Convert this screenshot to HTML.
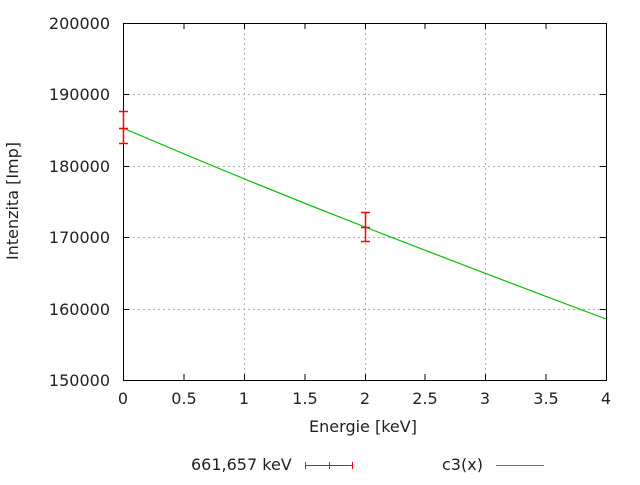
<!DOCTYPE html><html><head><style>body{margin:0;background:#fff}svg text{font-family:"DejaVu Sans","Liberation Sans",sans-serif;font-size:16px;fill:#222}</style></head><body>
<svg width="640" height="480" xmlns="http://www.w3.org/2000/svg">
<g stroke="#b0b0b0" stroke-dasharray="2,3" stroke-width="1">
<line x1="244.5" y1="23" x2="244.5" y2="380"/><line x1="365.5" y1="23" x2="365.5" y2="380"/><line x1="485.5" y1="23" x2="485.5" y2="380"/>
<line x1="123" y1="94.5" x2="606" y2="94.5"/><line x1="123" y1="166.5" x2="606" y2="166.5"/><line x1="123" y1="237.5" x2="606" y2="237.5"/><line x1="123" y1="309.5" x2="606" y2="309.5"/>
</g>
<rect x="123.5" y="23.5" width="483" height="357" fill="none" stroke="#000"/>
<g stroke="#000">
<line x1="123" y1="94.5" x2="129" y2="94.5"/><line x1="606" y1="94.5" x2="600" y2="94.5"/>
<line x1="123" y1="166.5" x2="129" y2="166.5"/><line x1="606" y1="166.5" x2="600" y2="166.5"/>
<line x1="123" y1="237.5" x2="129" y2="237.5"/><line x1="606" y1="237.5" x2="600" y2="237.5"/>
<line x1="123" y1="309.5" x2="129" y2="309.5"/><line x1="606" y1="309.5" x2="600" y2="309.5"/>
<line x1="184" y1="380" x2="184" y2="374"/><line x1="244.5" y1="380" x2="244.5" y2="374"/><line x1="305" y1="380" x2="305" y2="374"/><line x1="365.5" y1="380" x2="365.5" y2="374"/><line x1="425" y1="380" x2="425" y2="374"/><line x1="485.5" y1="380" x2="485.5" y2="374"/><line x1="546" y1="380" x2="546" y2="374"/>
<line x1="184" y1="23" x2="184" y2="29"/><line x1="244.5" y1="23" x2="244.5" y2="29"/><line x1="305" y1="23" x2="305" y2="29"/><line x1="365.5" y1="23" x2="365.5" y2="29"/><line x1="425" y1="23" x2="425" y2="29"/><line x1="485.5" y1="23" x2="485.5" y2="29"/><line x1="546" y1="23" x2="546" y2="29"/>
</g>
<g text-anchor="end"><text x="110" y="29">200000</text><text x="110" y="100">190000</text><text x="110" y="172">180000</text><text x="110" y="243">170000</text><text x="110" y="315">160000</text><text x="110" y="386">150000</text></g>
<g text-anchor="middle"><text x="123" y="404">0</text><text x="184" y="404">0.5</text><text x="244" y="404">1</text><text x="305" y="404">1.5</text><text x="365" y="404">2</text><text x="425" y="404">2.5</text><text x="485" y="404">3</text><text x="546" y="404">3.5</text><text x="606" y="404">4</text>
<text x="363" y="432">Energie [keV]</text>
<text transform="translate(18,201) rotate(-90)">Intenzita [Imp]</text></g>
<path d="M123,128 Q244,180 365,227 T606,319" fill="none" stroke="#00c000" stroke-width="1.2"/>
<g stroke="#f00" stroke-width="1.5">
<line x1="123.5" y1="111" x2="123.5" y2="144"/><line x1="119" y1="111.5" x2="128" y2="111.5"/><line x1="119" y1="143.5" x2="128" y2="143.5"/><line x1="119" y1="128.5" x2="128" y2="128.5"/>
<line x1="365.5" y1="212" x2="365.5" y2="242"/><line x1="361" y1="212.5" x2="370" y2="212.5"/><line x1="361" y1="241.5" x2="370" y2="241.5"/><line x1="361" y1="227.5" x2="370" y2="227.5"/>
</g>
<text x="191" y="470">661,657 keV</text>
<g stroke="#f00"><line x1="305" y1="465.5" x2="353" y2="465.5"/><line x1="305.5" y1="462" x2="305.5" y2="469"/><line x1="352.5" y1="462" x2="352.5" y2="469"/><line x1="329.5" y1="462" x2="329.5" y2="469"/></g>
<text x="442" y="470">c3(x)</text>
<line x1="496" y1="465.5" x2="544" y2="465.5" stroke="#00c000"/>
</svg></body></html>
